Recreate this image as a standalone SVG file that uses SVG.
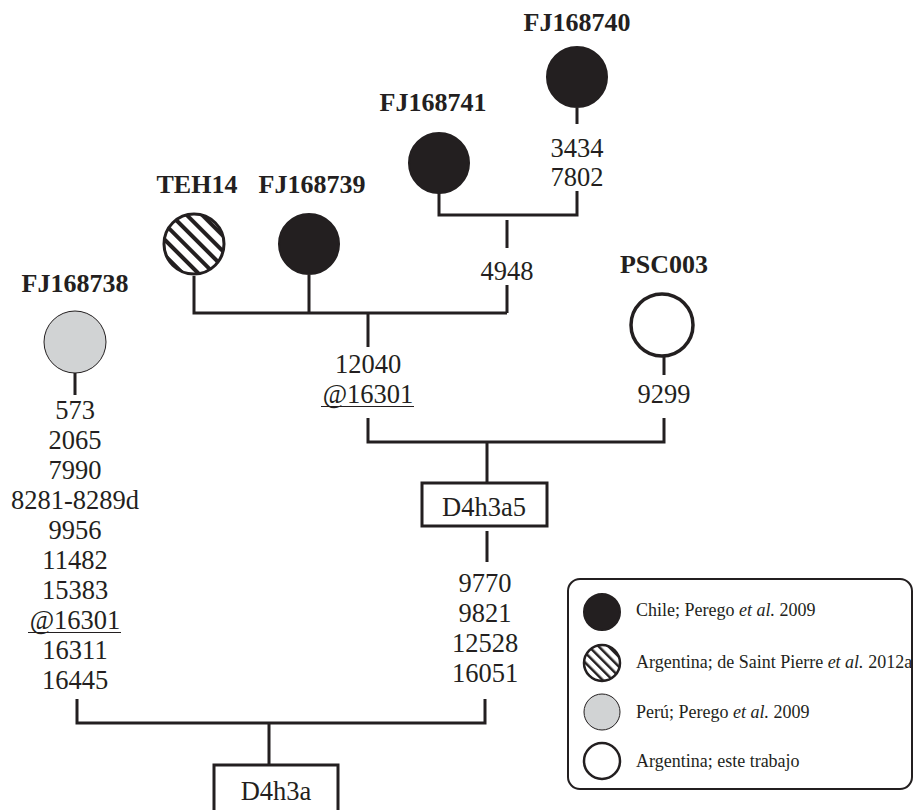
<svg xmlns="http://www.w3.org/2000/svg" width="915" height="810" viewBox="0 0 915 810">
<defs>
<pattern id="hatch" patternUnits="userSpaceOnUse" width="11" height="11" patternTransform="rotate(-45)">
<rect width="11" height="11" fill="#fff"/>
<rect x="0" y="0" width="4" height="11" fill="#231f20"/>
</pattern>
<pattern id="hatchS" patternUnits="userSpaceOnUse" width="7" height="7" patternTransform="rotate(-45)">
<rect width="7" height="7" fill="#fff"/>
<rect x="0" y="0" width="2.5" height="7" fill="#231f20"/>
</pattern>
</defs>
<style>
text{font-family:"Liberation Serif","Times New Roman",serif;fill:#231f20;text-anchor:middle}
.lbl{font-weight:bold;font-size:26px}
.num{font-size:26.5px}
.leg{font-size:18px;text-anchor:start}
.ln{stroke:#231f20;stroke-width:3;fill:none}
.black{fill:#231f20;stroke:#231f20;stroke-width:2}
.hat{fill:url(#hatch);stroke:#231f20;stroke-width:3}
.gray{fill:#d1d3d4;stroke:#231f20;stroke-width:1}
.white{fill:#fff;stroke:#231f20;stroke-width:3.5}
.box{fill:#fff;stroke:#231f20;stroke-width:3}
</style>
<rect width="915" height="810" fill="#fff"/>
<g id="connectors">
<path class="ln" d="M577 108V124M577 191V215H439V193M507 220V248M507 285V313M194 276V313H507M309 275V313M368 313V347"/>
<path class="ln" d="M368 418V442H664V418M664 357V375M487 442V482"/>
<path class="ln" d="M487 531V562M485 699V723H77V699M75 373V395M269 723V765"/>
</g>
<g id="FJ168740">
<text class="lbl" x="577" y="31">FJ168740</text>
<circle class="black" cx="577" cy="77" r="30"/>
<text class="num" x="577" y="157">3434</text>
<text class="num" x="577" y="186">7802</text>
</g>
<g id="FJ168741">
<text class="lbl" x="433" y="111">FJ168741</text>
<circle class="black" cx="439" cy="163" r="30"/>
</g>
<g id="n4948"><text class="num" x="507" y="280">4948</text></g>
<g id="TEH14">
<text class="lbl" x="197" y="193">TEH14</text>
<circle class="hat" cx="194" cy="244" r="30"/>
</g>
<g id="FJ168739">
<text class="lbl" x="312" y="193">FJ168739</text>
<circle class="black" cx="309" cy="244" r="30"/>
</g>
<g id="n12040">
<text class="num" x="368" y="373">12040</text>
<text class="num" x="368" y="403">@16301</text>
<line class="ln" x1="321" y1="406.5" x2="414" y2="406.5" style="stroke-width:1.2"/>
</g>
<g id="PSC003">
<text class="lbl" x="664" y="273">PSC003</text>
<circle class="white" cx="662" cy="325" r="31"/>
<text class="num" x="664" y="403">9299</text>
</g>
<g id="D4h3a5">
<rect class="box" x="422" y="483" width="125" height="43"/>
<text class="num" x="484" y="516">D4h3a5</text>
</g>
<g id="n9770">
<text class="num" x="485" y="592">9770</text>
<text class="num" x="485" y="622">9821</text>
<text class="num" x="485" y="652">12528</text>
<text class="num" x="485" y="682">16051</text>
</g>
<g id="FJ168738">
<text class="lbl" x="75" y="292">FJ168738</text>
<circle class="gray" cx="75" cy="342" r="31"/>
<text class="num" x="75" y="419">573</text>
<text class="num" x="75" y="449">2065</text>
<text class="num" x="75" y="479">7990</text>
<text class="num" x="75" y="509">8281-8289d</text>
<text class="num" x="75" y="539">9956</text>
<text class="num" x="75" y="569">11482</text>
<text class="num" x="75" y="599">15383</text>
<text class="num" x="75" y="629">@16301</text>
<line class="ln" x1="28" y1="632.5" x2="121" y2="632.5" style="stroke-width:1.2"/>
<text class="num" x="75" y="659">16311</text>
<text class="num" x="75" y="689">16445</text>
</g>
<g id="D4h3a">
<rect class="box" x="214" y="765" width="124" height="50"/>
<text class="num" x="276" y="800">D4h3a</text>
</g>
<g id="legend">
<rect x="568" y="579" width="344" height="210" rx="12" fill="#fff" stroke="#231f20" stroke-width="2"/>
<circle class="black" cx="602" cy="612" r="18"/>
<text class="leg" x="636" y="616">Chile; Perego <tspan font-style="italic">et al.</tspan> 2009</text>
<circle cx="602" cy="663" r="18" fill="url(#hatchS)" stroke="#231f20" stroke-width="2.5"/>
<text class="leg" x="636" y="668">Argentina; de Saint Pierre <tspan font-style="italic">et al.</tspan> 2012a</text>
<circle class="gray" cx="602" cy="712" r="18"/>
<text class="leg" x="636" y="718">Perú; Perego <tspan font-style="italic">et al.</tspan> 2009</text>
<circle class="white" cx="602" cy="761" r="18" style="stroke-width:2.5"/>
<text class="leg" x="636" y="767">Argentina; este trabajo</text>
</g>
</svg>
